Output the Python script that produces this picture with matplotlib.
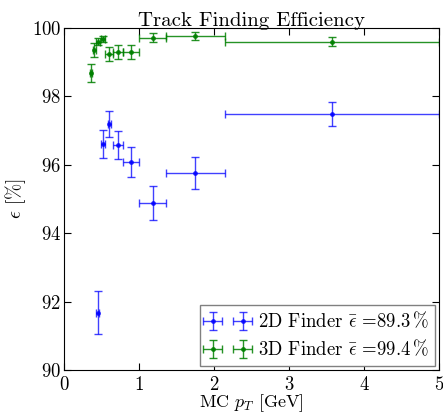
import numpy as np
import matplotlib
matplotlib.use("Agg")
import matplotlib.pyplot as plt

plt.rcParams["font.family"] = ["cmr10", "DejaVu Serif"]
plt.rcParams["mathtext.fontset"] = "cm"
plt.rcParams["axes.unicode_minus"] = False
plt.rcParams["axes.formatter.use_mathtext"] = True

# 2D finder (blue)
x_2d = [0.45, 0.516, 0.605, 0.72, 0.889, 1.18, 1.75, 3.57]
xerr_2d = [0.02, 0.025, 0.025, 0.07, 0.107, 0.18, 0.39, 1.43]
y_2d = [91.68, 96.61, 97.19, 96.58, 96.07, 94.88, 95.76, 97.48]
yerr_2d = [0.62, 0.40, 0.37, 0.40, 0.44, 0.49, 0.46, 0.35]

# 3D finder (green)
x_3d = [0.36, 0.40, 0.449, 0.516, 0.60, 0.72, 0.889, 1.18, 1.75, 3.57]
xerr_3d = [0.015, 0.02, 0.025, 0.025, 0.05, 0.07, 0.107, 0.18, 0.39, 1.43]
y_3d = [98.68, 99.35, 99.60, 99.68, 99.24, 99.29, 99.29, 99.71, 99.76, 99.60]
yerr_3d = [0.27, 0.20, 0.10, 0.08, 0.21, 0.20, 0.20, 0.13, 0.12, 0.14]

fig = plt.figure(figsize=(4.43, 4.16), dpi=100)
ax = fig.add_axes([0.1445, 0.1106, 0.8465, 0.8224])

ax.errorbar(x_2d, y_2d, xerr=xerr_2d, yerr=yerr_2d, fmt="o", color="blue",
            markersize=2.5, elinewidth=1.0, capsize=3, alpha=0.75,
            label=r"2D Finder $\bar{\epsilon}$ =89.3$\,\%$")
ax.errorbar(x_3d, y_3d, xerr=xerr_3d, yerr=yerr_3d, fmt="o", color="green",
            markersize=2.5, elinewidth=1.0, capsize=3, alpha=0.85,
            label=r"3D Finder $\bar{\epsilon}$ =99.4$\,\%$")

ax.set_xlim(0, 5)
ax.set_ylim(90, 100)
ax.set_xticks(np.arange(0, 6, 1))
ax.set_yticks(np.arange(90, 101, 2))
ax.tick_params(direction="in", top=True, right=True, labelsize=13.5,
               length=5)
ax.tick_params(axis="x", pad=4)
ax.tick_params(axis="y", pad=2)

ax.set_title("Track Finding Efficiency", fontsize=15, pad=1)
ax.set_xlabel(r"MC $p_T$ [GeV]", fontsize=13, labelpad=-1)
ax.set_ylabel(r"$\epsilon$ [%]", fontsize=14, labelpad=3)

ax.legend(loc="lower right", numpoints=2, fontsize=13.5, fancybox=False,
          edgecolor="gray", framealpha=1, handlelength=2.2,
          borderaxespad=0.2, borderpad=0.35, labelspacing=0.4,
          handletextpad=0.5)

fig.savefig("out.png", dpi=100)
